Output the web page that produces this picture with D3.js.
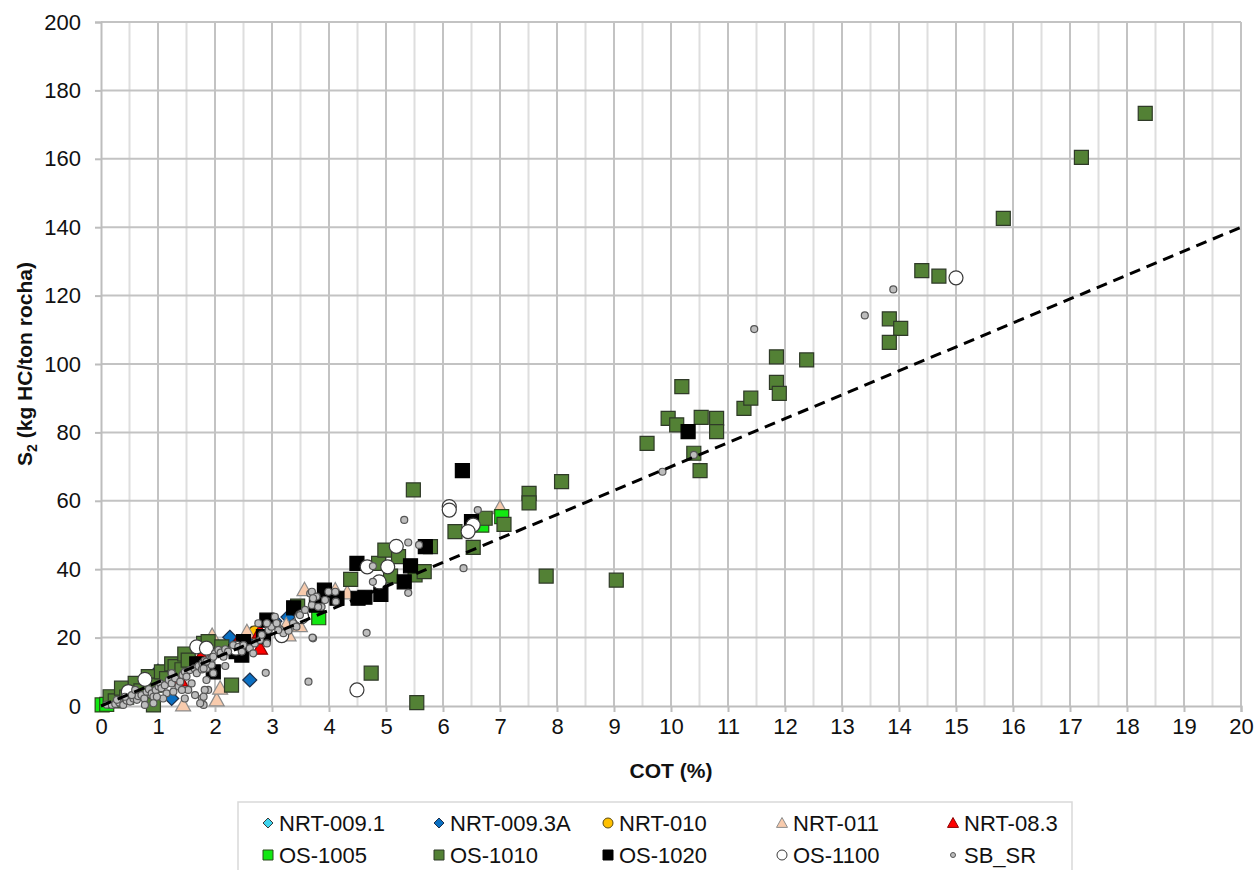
<!DOCTYPE html>
<html>
<head>
<meta charset="utf-8">
<script src="https://cdn.jsdelivr.net/npm/d3@7"></script>
<style>
  body { margin: 0; background: #fff; }
  svg { display: block; }
  text { font-family: "Liberation Sans", Arial, sans-serif; }
</style>
</head>
<body>
<svg id="chart" width="1255" height="870"></svg>
<script>
// ---- data: [COT (%), S2 (kg HC/ton rocha)] per well ----
const seriesNames = ["NRT-009.1", "NRT-009.3A", "NRT-010", "NRT-011", "NRT-08.3",
                     "OS-1005", "OS-1010", "OS-1020", "OS-1100", "SB_SR"];

const nrt0091 = [[1.10, 9.0], [2.20, 17.5], [0.55, 3.6]];
const nrt0093A = [[2.26, 20.1], [2.64, 21.2], [2.61, 7.6], [3.28, 26.0], [1.24, 2.2],
                  [1.00, 10.2], [3.05, 24.8]];
const nrt010 = [[1.60, 13.0], [2.70, 21.5]];
const nrt011 = [[1.44, 0.3], [2.03, 1.8], [2.09, 5.2], [1.95, 20.6], [2.56, 21.7],
                [3.25, 23.7], [3.49, 23.5], [3.29, 20.8], [3.57, 34.0], [4.11, 33.9],
                [4.32, 33.1], [7.00, 58.0]];
const nrt083 = [[1.39, 7.6], [1.76, 14.6], [2.37, 17.8], [2.79, 21.7], [2.79, 16.9], [1.20, 8.8]];
const os1005 = [[0.02, 0.3], [0.10, 0.5], [3.82, 25.8], [6.68, 52.9], [7.03, 55.4]];
const os1010 = [[0.16, 2.7], [0.25, 1.5], [0.36, 5.2], [0.45, 2.6], [0.60, 6.6], [0.70, 4.4],
                [0.83, 8.6], [0.92, 0.3], [0.95, 6.1], [1.06, 10.0], [1.15, 8.0], [1.24, 12.3],
                [1.30, 11.5], [1.42, 10.6], [1.47, 15.2], [1.53, 13.4], [1.80, 18.3], [1.88, 18.8],
                [2.12, 17.3], [2.29, 6.1], [3.45, 29.2], [4.38, 37.0], [4.87, 41.7], [4.98, 45.6],
                [5.22, 43.7], [5.08, 38.0], [5.51, 38.3], [5.67, 39.3], [5.78, 46.6], [5.48, 63.2],
                [4.74, 9.6], [5.54, 1.0], [6.21, 51.0], [6.74, 54.9], [7.07, 53.1], [6.53, 46.4],
                [7.51, 62.2], [7.51, 59.4], [8.08, 65.6], [7.81, 38.0], [9.04, 36.8], [9.58, 76.8],
                [9.95, 84.1], [10.10, 82.2], [10.19, 93.4], [10.40, 73.9], [10.51, 68.8],
                [10.53, 84.4], [10.80, 84.1], [10.80, 80.2], [11.28, 87.0], [11.40, 90.0],
                [11.85, 102.1], [11.85, 94.6], [11.90, 91.4], [12.38, 101.2], [13.83, 113.2],
                [14.03, 110.4], [13.83, 106.3], [14.40, 127.3], [14.70, 125.7], [15.83, 142.6],
                [17.20, 160.4], [18.32, 173.3]];
const os1020 = [[1.97, 10.0], [1.68, 12.3], [2.37, 15.9], [2.47, 14.9], [2.50, 18.8],
                [2.85, 20.3], [2.91, 25.1], [3.38, 28.7], [3.78, 29.5], [3.92, 33.9],
                [4.14, 31.5], [4.49, 41.7], [4.51, 31.5], [4.63, 31.8], [4.91, 32.6],
                [5.32, 36.3], [5.43, 41.0], [5.69, 46.6], [6.34, 68.8], [6.50, 53.9], [10.30, 80.2]];
const os1100 = [[0.48, 4.2], [0.77, 7.8], [1.68, 17.3], [1.85, 16.9], [2.37, 16.9],
                [3.17, 20.6], [3.52, 26.1], [4.67, 40.7], [5.03, 40.7], [5.18, 46.7],
                [4.88, 36.3], [6.11, 58.3], [6.11, 57.3], [6.53, 52.9], [6.44, 51.0],
                [4.49, 4.7], [15.00, 125.2]];
const sbsr = [[0.10, 0.4], [0.19, 0.3], [0.25, 0.6], [0.32, 1.0], [0.39, 0.3], [0.45, 1.6],
              [0.51, 1.3], [0.57, 2.2], [0.63, 1.8], [0.65, 2.9], [0.71, 3.2], [0.76, 2.2],
              [0.80, 4.2], [0.84, 4.9], [0.89, 3.7], [0.92, 2.7], [0.96, 4.7], [1.01, 5.7],
              [1.04, 6.6], [1.06, 5.2], [1.12, 6.1], [1.15, 3.7], [1.09, 2.2], [1.19, 7.6],
              [1.24, 6.6], [1.30, 8.1], [1.36, 5.7], [1.39, 7.1], [1.43, 9.1], [1.47, 10.0],
              [1.50, 8.6], [1.56, 10.5], [1.59, 6.6], [1.64, 11.0], [1.68, 9.6], [1.71, 11.7],
              [1.77, 10.7], [1.78, 12.5], [1.82, 13.3], [1.85, 11.0], [1.91, 13.9], [1.94, 12.0],
              [1.97, 9.6], [1.88, 4.7], [1.77, 2.2], [1.80, 0.3], [1.65, 3.2], [1.53, 4.7],
              [1.42, 4.7], [1.47, 2.2], [1.27, 4.2], [0.98, 2.7], [0.92, 0.8], [0.77, 0.3],
              [0.54, 3.2], [0.42, 2.7], [0.28, 1.8], [0.60, 4.7], [1.24, 9.6],
              [1.80, 11.0], [1.85, 13.0], [1.94, 13.9], [2.00, 15.4], [2.06, 16.4], [2.10, 15.6],
              [2.15, 14.4], [2.18, 16.6], [2.23, 15.9], [2.32, 17.8], [2.41, 17.3], [2.47, 15.9],
              [2.50, 17.8], [2.61, 16.9], [2.67, 15.4], [2.70, 18.3], [2.79, 19.3], [2.82, 20.8],
              [2.91, 18.3], [2.94, 22.2], [2.99, 23.2], [3.05, 26.1], [3.09, 24.2], [3.14, 22.4],
              [3.20, 21.3], [3.29, 22.0], [3.37, 24.2], [3.43, 23.2], [3.49, 26.6], [3.58, 28.1],
              [3.70, 29.5], [3.75, 32.0], [3.67, 32.9], [3.72, 19.8], [2.89, 9.7], [3.64, 7.1],
              [2.18, 11.7], [1.97, 14.4], [1.85, 7.6], [1.82, 4.7], [1.80, 2.7], [1.74, 0.8],
              [2.76, 24.2], [2.91, 24.2], [3.08, 24.2], [3.11, 22.2], [3.70, 33.4], [3.78, 32.0],
              [3.99, 33.4], [4.11, 33.4], [3.93, 31.0], [3.87, 29.0], [3.72, 31.5], [3.81, 29.0],
              [4.12, 30.5], [4.77, 40.9], [5.39, 47.8], [5.58, 47.1], [4.77, 36.3], [5.39, 33.1],
              [3.71, 20.0], [4.66, 21.4], [5.32, 54.4], [6.61, 57.3], [6.36, 40.3], [9.85, 68.5],
              [10.40, 73.4], [11.46, 110.2], [13.40, 114.2], [13.90, 121.8]];

const seriesData = [nrt0091, nrt0093A, nrt010, nrt011, nrt083, os1005, os1010, os1020, os1100, sbsr];

// Linear trend S2 = 7 × COT, drawn across the full COT range
const trendLine = [[0, 0], [20, 140]];

const xTickValues = [0, 1, 2, 3, 4, 5, 6, 7, 8, 9, 10, 11, 12, 13, 14, 15, 16, 17, 18, 19, 20];
const yTickValues = [0, 20, 40, 60, 80, 100, 120, 140, 160, 180, 200];

// ---- marker styling per series ----
const markerStyle = {
  "NRT-009.1":  { shape: "diamond",  fill: "#3fd4ee", stroke: "#3a3a3a", size: 14 },
  "NRT-009.3A": { shape: "diamond",  fill: "#0a6fc2", stroke: "#1e2f4a", size: 14 },
  "NRT-010":    { shape: "circle",   fill: "#ffc000", stroke: "#5a4a10", size: 13 },
  "NRT-011":    { shape: "triangle", fill: "#f8cbad", stroke: "#8c8c8c", size: 15 },
  "NRT-08.3":   { shape: "triangle", fill: "#ff0000", stroke: "#8b0000", size: 15 },
  "OS-1005":    { shape: "square",   fill: "#12e812", stroke: "#2a4a1a", size: 14 },
  "OS-1010":    { shape: "square",   fill: "#538135", stroke: "#2f3a28", size: 14 },
  "OS-1020":    { shape: "square",   fill: "#000000", stroke: "#000000", size: 14 },
  "OS-1100":    { shape: "circle",   fill: "#ffffff", stroke: "#3a3a3a", size: 14 },
  "SB_SR":      { shape: "circle",   fill: "#bdbdbd", stroke: "#555555", size: 7 }
};

function markerPath(shape, s) {
  const h = s / 2;
  if (shape === "square") return `M${-h},${-h}H${h}V${h}H${-h}Z`;
  if (shape === "diamond") return `M0,${-h}L${h},0L0,${h}L${-h},0Z`;
  if (shape === "triangle") return `M0,${-h}L${h},${h * 0.8}L${-h},${h * 0.8}Z`;
  return d3.arc()({ innerRadius: 0, outerRadius: h, startAngle: 0, endAngle: 2 * Math.PI });
}

// ---- layout ----
const svg = d3.select("#chart");
const plot = { left: 101, right: 1241, top: 22, bottom: 706 };

const x = d3.scaleLinear().domain([0, 20]).range([plot.left, plot.right]);
const y = d3.scaleLinear().domain([0, 200]).range([plot.bottom, plot.top]);

svg.append("rect").attr("width", 1255).attr("height", 870).attr("fill", "#fff");

// gridlines: half-unit minor verticals, unit major verticals, horizontals every 20
const grid = svg.append("g");
grid.selectAll("line.minor")
  .data(d3.range(0.5, 20, 1))
  .join("line")
  .attr("x1", d => x(d)).attr("x2", d => x(d))
  .attr("y1", plot.top).attr("y2", plot.bottom)
  .attr("stroke", "#dedede").attr("stroke-width", 2);
grid.selectAll("line.major")
  .data(xTickValues.slice(1))
  .join("line")
  .attr("x1", d => x(d)).attr("x2", d => x(d))
  .attr("y1", plot.top).attr("y2", plot.bottom)
  .attr("stroke", "#c3c3c3").attr("stroke-width", 2);
grid.selectAll("line.h")
  .data(yTickValues.slice(1))
  .join("line")
  .attr("x1", plot.left).attr("x2", plot.right)
  .attr("y1", d => y(d)).attr("y2", d => y(d))
  .attr("stroke", "#c3c3c3").attr("stroke-width", 2);

// axes
const yAxis = svg.append("g")
  .attr("transform", `translate(${plot.left},0)`)
  .call(d3.axisLeft(y).tickValues(yTickValues).tickSize(6).tickPadding(14));
const xAxis = svg.append("g")
  .attr("transform", `translate(0,${plot.bottom})`)
  .call(d3.axisBottom(x).tickValues(xTickValues).tickSize(6).tickPadding(6));
[xAxis, yAxis].forEach(g => {
  g.select(".domain").attr("stroke", "#bdbdbd").attr("stroke-width", 2);
  g.selectAll(".tick line").attr("stroke", "#bdbdbd").attr("stroke-width", 2);
  g.selectAll(".tick text").attr("font-size", 22).attr("fill", "#111")
    .attr("font-family", "'Liberation Sans', Arial, sans-serif");
});

// scatter markers, series drawn in legend order
const pts = svg.append("g");
seriesNames.forEach((name, i) => {
  const st = markerStyle[name];
  pts.append("g").selectAll("path")
    .data(seriesData[i])
    .join("path")
    .attr("transform", d => `translate(${x(d[0])},${y(d[1])})`)
    .attr("d", markerPath(st.shape, st.size))
    .attr("fill", st.fill)
    .attr("stroke", st.stroke)
    .attr("stroke-width", 1.2);
});

// trend line
svg.append("path")
  .datum(trendLine)
  .attr("d", d3.line().x(d => x(d[0])).y(d => y(d[1])))
  .attr("fill", "none")
  .attr("stroke", "#000")
  .attr("stroke-width", 3)
  .attr("stroke-dasharray", "11,7");

// axis titles
const yTitle = svg.append("text")
  .attr("transform", `translate(32,${(plot.top + plot.bottom) / 2}) rotate(-90)`)
  .attr("text-anchor", "middle")
  .attr("font-size", 21).attr("font-weight", "bold").attr("fill", "#111");
yTitle.append("tspan").text("S");
yTitle.append("tspan").attr("font-size", 14).attr("dy", 5).text("2");
yTitle.append("tspan").attr("dy", -5).text(" (kg HC/ton rocha)");

svg.append("text")
  .attr("x", (plot.left + plot.right) / 2).attr("y", 778)
  .attr("text-anchor", "middle")
  .attr("font-size", 21).attr("font-weight", "bold").attr("fill", "#111")
  .text("COT (%)");

// legend
const legend = svg.append("g");
legend.append("rect")
  .attr("x", 238).attr("y", 802).attr("width", 834).attr("height", 80)
  .attr("fill", "#fff").attr("stroke", "#d9d9d9").attr("stroke-width", 1.5);
const legendCols = [268, 439, 608, 782, 953];
const legendRows = [823, 855];
seriesNames.forEach((name, i) => {
  const st = markerStyle[name];
  const lx = legendCols[i % 5], ly = legendRows[Math.floor(i / 5)];
  const ls = name === "SB_SR" ? 5 : (st.shape === "triangle" ? 11 : 10);
  legend.append("path")
    .attr("transform", `translate(${lx},${ly})`)
    .attr("d", markerPath(st.shape, ls))
    .attr("fill", st.fill).attr("stroke", st.stroke).attr("stroke-width", 1);
  legend.append("text")
    .attr("x", lx + 11).attr("y", ly + 8)
    .attr("font-size", 22).attr("fill", "#111")
    .text(name);
});
</script>
</body>
</html>
